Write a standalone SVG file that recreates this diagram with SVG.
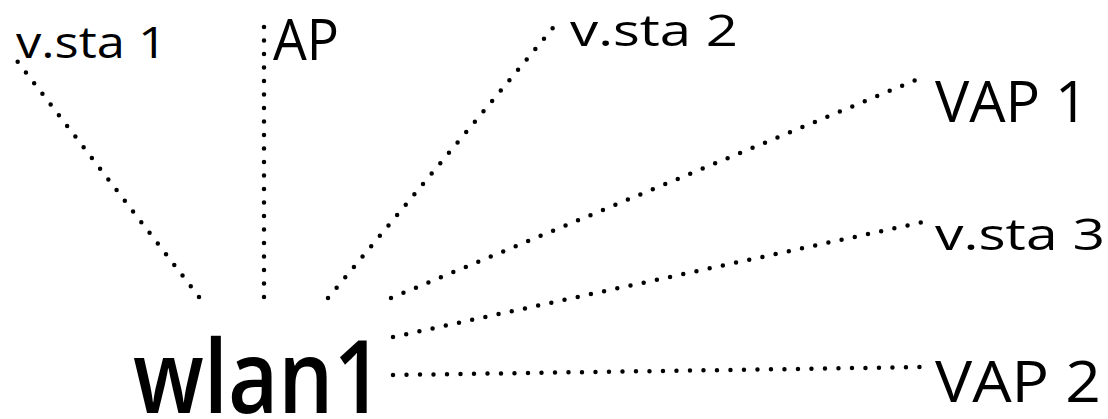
<svg xmlns="http://www.w3.org/2000/svg" width="1108" height="419" viewBox="0 0 1108 419">
<style>
  .lbl { font-family: "Open Sans", "Noto Sans", "DejaVu Sans", sans-serif; fill: #000; font-weight: 500; }
  .sm { font-size: 43px; }
  .cap { font-size: 56px; }
  .big { font-size: 102px; font-weight: 600; }
  .conn { fill: none; stroke: #000; stroke-width: 4.5; stroke-linecap: round; stroke-dasharray: 0 13.5; }
</style>
<rect width="1108" height="419" fill="#fff"/>
<g id="connectors">
  <line class="conn" x1="199" y1="297" x2="14" y2="57"/>
  <line class="conn" x1="264" y1="297" x2="264" y2="23"/>
  <line class="conn" x1="328" y1="298" x2="557" y2="23"/>
  <line class="conn" x1="391" y1="298" x2="923" y2="77"/>
  <line class="conn" x1="393" y1="337" x2="928" y2="221"/>
  <line class="conn" x1="393" y1="375" x2="927" y2="367"/>
</g>
<g id="wlan1"><text class="lbl big" x="133" y="413" textLength="250" lengthAdjust="spacingAndGlyphs">wlan1</text></g>
<g id="vsta1"><text class="lbl sm" x="16" y="58" textLength="151" lengthAdjust="spacingAndGlyphs">v.sta 1</text></g>
<g id="ap"><text class="lbl cap" x="273" y="60" textLength="66" lengthAdjust="spacingAndGlyphs">AP</text></g>
<g id="vsta2"><text class="lbl sm" x="570" y="46" textLength="168" lengthAdjust="spacingAndGlyphs">v.sta  2</text></g>
<g id="vap1"><text class="lbl cap" x="935" y="122" textLength="153" lengthAdjust="spacingAndGlyphs">VAP 1</text></g>
<g id="vsta3"><text class="lbl sm" x="935" y="250" textLength="170" lengthAdjust="spacingAndGlyphs">v.sta 3</text></g>
<g id="vap2"><text class="lbl cap" x="935" y="402" textLength="166" lengthAdjust="spacingAndGlyphs">VAP 2</text></g>
</svg>
